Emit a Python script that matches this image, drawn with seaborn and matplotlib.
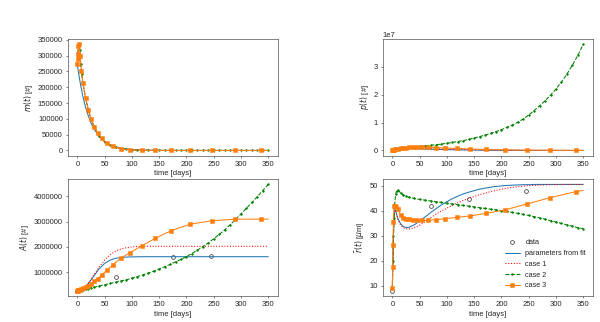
import numpy as np
import matplotlib
matplotlib.use("Agg")
import matplotlib.pyplot as plt
import seaborn as sns

# time grids [days]
t_line = [0, 1, 2, 3, 4, 6, 8, 10, 15, 20, 25, 30,
          40, 50, 60, 70, 80, 90, 100, 110, 120, 130, 140, 150, 160, 170, 180, 190,
          200, 210, 220, 230, 240, 250, 260, 270, 280, 290, 300, 310, 320, 330, 340, 350]
t_case3 = [0, 0.5, 1, 2, 3, 5, 7.5, 10, 15, 20, 25, 31, 37, 45, 54, 65, 80, 97,
           118, 143, 172, 206, 246, 289, 336, 350]

# measured data
t_data_A = [0, 70, 175, 245]
A_data = [280000, 820000, 1600000, 1650000]
t_data_r = [0, 70, 140, 245]
r_data = [8.0, 41.8, 44.7, 47.8]

# m(t)
m_fit = [272000, 260000, 248000, 237000, 227000, 207000, 190000, 172000, 137000, 110000, 87000, 69500,
         44000, 28000, 17700, 11200, 7100, 4500, 2900, 1800, 1200, 740, 470, 300, 190, 120, 80, 50,
         30, 20, 13, 8, 5, 3, 2, 1, 1, 0, 0, 0, 0, 0, 0, 0]
m_case2 = [272000, 305000, 330000, 335000, 318000, 275000, 243000, 215000, 166000, 129000, 100000, 78000,
           47000, 27000, 16000, 9500, 5500, 3300, 2000, 1200, 700, 400, 250, 150, 100, 60, 40, 25,
           15, 10, 6, 4, 2, 1, 0, 0, 0, 0, 0, 0, 0, 0, 0, 0]
m_case1 = m_case2
m_case3 = [272000, 288000, 305000, 330000, 336000, 300000, 252000, 215000, 166000, 129000, 100000, 74000,
           56000, 38000, 23000, 12700, 5500, 2000, 600, 150, 40, 10, 0, 0, 0, 0]

# p(t)
p_fit = [100000, 150000, 200000, 240000, 280000, 340000, 390000, 430000, 500000, 540000, 560000, 570000,
         560000, 530000, 490000, 440000, 390000, 340000, 300000, 260000, 220000, 190000, 160000, 140000,
         120000, 100000, 85000, 70000, 60000, 50000, 42000, 35000, 30000, 25000, 21000, 18000,
         15000, 12000, 10000, 8000, 7000, 6000, 5000, 4000]
p_case1 = [100000, 160000, 220000, 270000, 320000, 400000, 460000, 520000, 620000, 690000, 730000, 750000,
           750000, 720000, 670000, 610000, 550000, 490000, 430000, 380000, 330000, 290000, 250000, 220000,
           190000, 160000, 140000, 120000, 100000, 85000, 72000, 61000, 52000, 44000, 37000, 31000,
           26000, 22000, 18000, 15000, 13000, 11000, 9000, 8000]
p_case2 = [100000, 170000, 240000, 310000, 370000, 480000, 580000, 670000, 830000, 950000, 1040000, 1110000,
           1300000, 1480000, 1650000, 1850000, 2050000, 2300000, 2550000, 2850000, 3200000, 3550000,
           3950000, 4450000, 4950000, 5500000, 6100000, 6750000, 7450000, 8250000, 9100000, 10100000,
           11300000, 12700000, 14300000, 16000000, 17800000, 19800000, 22000000, 24500000, 27300000,
           30500000, 34000000, 38000000]
p_case3 = [100000, 140000, 180000, 250000, 320000, 430000, 550000, 650000, 800000, 920000, 1020000, 1100000,
           1160000, 1200000, 1200000, 1150000, 1050000, 900000, 720000, 530000, 360000, 220000, 120000,
           60000, 30000, 25000]

# A(t)
A_fit = [280000, 281000, 283000, 287000, 292000, 306000, 325000, 350000, 440000, 560000, 700000, 850000,
         1140000, 1350000, 1480000, 1550000, 1585000, 1600000, 1608000, 1612000, 1614000] + [1615000] * 23
A_case1 = [280000, 281000, 283000, 287000, 293000, 308000, 328000, 352000, 445000, 570000, 720000, 880000,
           1220000, 1480000, 1690000, 1830000, 1920000, 1970000, 2000000, 2015000, 2022000] + [2025000] * 23
A_case2 = [280000, 284000, 288000, 292000, 296000, 304000, 312000, 320000, 340000, 360000, 385000, 410000,
           460000, 510000, 560000, 610000, 660000, 710000, 770000, 830000, 900000, 970000, 1050000,
           1130000, 1220000, 1310000, 1410000, 1510000, 1620000, 1740000, 1870000, 2010000, 2160000,
           2320000, 2490000, 2670000, 2870000, 3080000, 3300000, 3520000, 3750000, 3980000, 4220000, 4460000]
A_case3 = [280000, 282000, 285000, 290000, 297000, 315000, 340000, 370000, 420000, 480000, 550000, 640000,
           750000, 900000, 1080000, 1300000, 1560000, 1780000, 2040000, 2340000, 2640000, 2890000,
           3030000, 3090000, 3095000, 3095000]

# r(t)
r_fit = [8.9, 20.0, 30.0, 36.0, 39.5, 40.2, 38.5, 37.0, 34.8, 33.7, 33.2, 33.3,
         34.3, 35.8, 37.5, 39.2, 40.8, 42.3, 43.6, 44.8, 45.8, 46.7, 47.4, 48.0, 48.6, 49.0, 49.4,
         49.7, 49.9, 50.1, 50.2, 50.3, 50.4, 50.4] + [50.5] * 10
r_case1 = [8.9, 20.0, 30.0, 36.0, 39.3, 39.8, 38.2, 36.6, 34.3, 33.2, 32.7, 32.6,
           33.1, 34.2, 35.6, 37.1, 38.6, 39.9, 41.0, 42.2, 43.2, 44.1, 44.9, 45.7, 46.4, 47.0, 47.6,
           48.1, 48.6, 49.0, 49.3, 49.6, 49.8, 50.0, 50.1, 50.2, 50.3, 50.4, 50.4, 50.5, 50.5, 50.5, 50.5, 50.5]
r_case2 = [8.9, 20.0, 30.0, 37.0, 42.0, 46.5, 48.0, 48.3, 47.2, 46.3, 45.8, 45.4,
           44.9, 44.5, 44.2, 43.9, 43.6, 43.3, 43.0, 42.7, 42.4, 42.1, 41.8, 41.5, 41.2, 40.9, 40.6,
           40.3, 40.0, 39.7, 39.3, 38.9, 38.5, 38.1, 37.6, 37.1, 36.6, 36.0, 35.5, 34.9, 34.3, 33.8,
           33.2, 32.8]
r_case3 = [8.9, 17.5, 26.4, 35.3, 41.8, 42.0, 41.3, 40.7, 38.1, 37.2, 36.8, 36.5, 36.4, 36.2, 36.1,
           36.1, 36.4, 36.8, 37.3, 37.9, 38.9, 40.3, 42.6, 45.2, 47.6, 48.1]

m_ticks = [0, 50000, 100000, 150000, 200000, 250000, 300000, 350000]
t_ticks = [0, 50, 100, 150, 200, 250, 300, 350]

sns.set_style("ticks")
plt.rcParams['font.family'] = ['Liberation Sans', 'DejaVu Sans']
plt.rcParams['font.size'] = 11
plt.rcParams['xtick.labelsize'] = 11
plt.rcParams['ytick.labelsize'] = 11
plt.rcParams['axes.labelsize'] = 11
plt.rcParams['legend.fontsize'] = 10.5


def draw(ax, fit, c1, c2, c3, ylabel, t_data=None, y_data=None):
    if t_data is not None:
        ax.plot(t_data, y_data, 'o', mfc='none', mec='0.3', ms=5.5, mew=1.2, label='data')
    sns.lineplot(x=t_line, y=fit, ax=ax, color='C0', lw=1.5,
                 label='parameters from fit', legend=False)
    sns.lineplot(x=t_line, y=c1, ax=ax, color='r', lw=1.5, linestyle=':',
                 label='case 1', legend=False)
    sns.lineplot(x=t_line, y=c2, ax=ax, color='g', lw=1.5, linestyle='--',
                 marker='.', ms=5, mec='g', mfc='g', label='case 2', legend=False)
    sns.lineplot(x=t_case3, y=c3, ax=ax, color='C1', lw=1.5, marker='s', ms=6.5,
                 mec='C1', mfc='C1', markevery=list(range(len(t_case3) - 1)),
                 label='case 3', legend=False)
    ax.set_xlabel('time [days]')
    ax.set_ylabel(ylabel)
    ax.set_xticks(t_ticks)


fig, axes = plt.subplots(2, 2, figsize=(12, 6.44), dpi=50)
fig.subplots_adjust(left=0.113, right=0.988, top=0.879, bottom=0.081, wspace=0.5, hspace=0.2)

draw(axes[0, 0], m_fit, m_case1, m_case2, m_case3, '$m(t)$ [#]')
draw(axes[0, 1], p_fit, p_case1, p_case2, p_case3, '$p(t)$ [#]')
draw(axes[1, 0], A_fit, A_case1, A_case2, A_case3, '$A(t)$ [#]', t_data_A, A_data)
draw(axes[1, 1], r_fit, r_case1, r_case2, r_case3, r'$\bar{r}(t)$ [$\mu$m]', t_data_r, r_data)

axes[0, 0].set_yticks(m_ticks)
axes[0, 0].ticklabel_format(axis='y', style='plain')
axes[1, 0].ticklabel_format(axis='y', style='plain')
axes[1, 1].legend(loc='lower right', frameon=False)

fig.savefig('out.png', dpi=50)
